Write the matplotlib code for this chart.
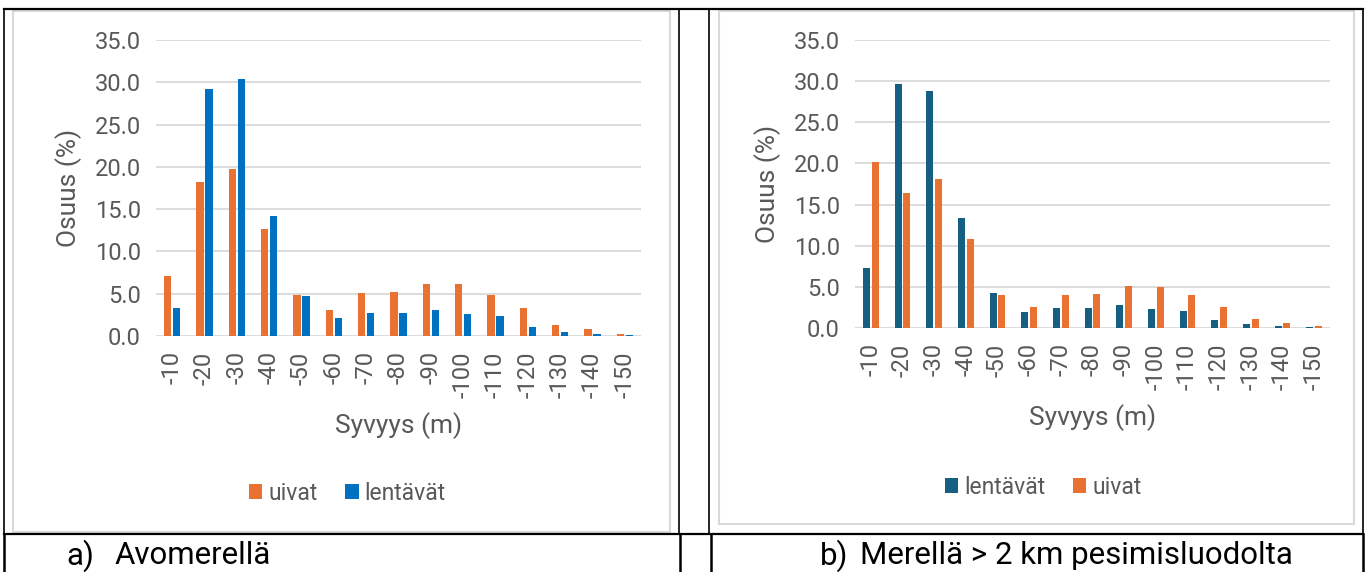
import numpy as np
import matplotlib.pyplot as plt
from matplotlib.lines import Line2D
from matplotlib.patches import Rectangle

plt.rcParams['font.family'] = ['Roboto', 'DejaVu Sans']

depths = ['-10', '-20', '-30', '-40', '-50', '-60', '-70', '-80', '-90', '-100',
          '-110', '-120', '-130', '-140', '-150']

# a) Avomerellä
uivat_a = [7.1, 18.2, 19.8, 12.6, 4.8, 3.1, 5.05, 5.2, 6.2, 6.2, 4.85, 3.3, 1.3, 0.8, 0.25]
lentavat_a = [3.3, 29.2, 30.4, 14.2, 4.75, 2.1, 2.7, 2.7, 3.1, 2.55, 2.35, 1.1, 0.5, 0.25, 0.1]

# b) Merellä > 2 km pesimisluodolta
lentavat_b = [7.35, 29.6, 28.8, 13.4, 4.25, 1.95, 2.45, 2.45, 2.8, 2.35, 2.1, 1.0, 0.45, 0.2, 0.08]
uivat_b = [20.2, 16.4, 18.1, 10.8, 3.95, 2.5, 4.05, 4.15, 5.05, 5.0, 3.95, 2.6, 1.05, 0.6, 0.2]

ORANGE = '#E97132'
BLUE = '#0070C0'
DARKBLUE = '#156082'
TXT = '#595959'
GRID = '#D9D9D9'

W, H = 1371, 572
fig = plt.figure(figsize=(W / 100, H / 100), dpi=100)


def fx(px):
    return px / W


def fy(py):
    return 1 - py / H


def make_axes(x0, x1, y0, y1):
    ax = fig.add_axes([fx(x0), fy(y1), fx(x1) - fx(x0), fy(y0) - fy(y1)])
    ax.set_ylim(0, 35)
    ax.set_xlim(-0.5, len(depths) - 0.5)
    ax.set_yticks(np.arange(0, 36, 5))
    ax.set_yticklabels([f'{v:.1f}' for v in np.arange(0, 36, 5)])
    ax.set_xticks(np.arange(len(depths)))
    ax.set_xticklabels(depths, rotation=90)
    ax.tick_params(length=0, labelsize=17, colors=TXT, pad=11)
    for s in ax.spines.values():
        s.set_visible(False)
    ax.grid(axis='y', color=GRID, lw=1.3)
    ax.set_axisbelow(True)
    return ax


x = np.arange(len(depths))
bw = 0.22
off = 0.14
leg_kw = dict(ncol=2, frameon=False, fontsize=16.5, handlelength=0.6, handleheight=0.6,
              handletextpad=0.25, columnspacing=1.2, labelcolor=TXT,
              bbox_transform=fig.transFigure, loc='center')

# left chart
ax1 = make_axes(156, 641, 40, 336)
ax1.bar(x - off, uivat_a, bw, color=ORANGE, label='uivat')
ax1.bar(x + off, lentavat_a, bw, color=BLUE, label='lentävät')
ax1.set_ylabel('Osuus (%)', fontsize=19, color=TXT, labelpad=9)
ax1.set_xlabel('Syvyys (m)', fontsize=19, color=TXT, labelpad=10)
ax1.legend(bbox_to_anchor=(fx(347), fy(493)), **leg_kw)

# right chart
ax2 = make_axes(855, 1330, 40, 328)
ax2.bar(x - off, lentavat_b, bw, color=DARKBLUE, label='lentävät')
ax2.bar(x + off, uivat_b, bw, color=ORANGE, label='uivat')
ax2.set_ylabel('Osuus (%)', fontsize=19, color=TXT, labelpad=9)
ax2.set_xlabel('Syvyys (m)', fontsize=19, color=TXT, labelpad=10)
ax2.legend(bbox_to_anchor=(fx(1043), fy(487)), **leg_kw)

# gray chart frames
for (a, b, c, d) in [(13, 11, 670, 532), (719, 11, 1354, 524)]:
    fig.add_artist(Rectangle((fx(a), fy(d)), fx(c) - fx(a), fy(b) - fy(d),
                             transform=fig.transFigure, fill=False,
                             edgecolor=GRID, lw=1.5))


# table lines
def hline(y, xa, xb, lw=1.6):
    fig.add_artist(Line2D([fx(xa), fx(xb)], [fy(y), fy(y)], color='black', lw=lw))


def vline(xp, ya, yb, lw=1.2):
    fig.add_artist(Line2D([fx(xp), fx(xp)], [fy(ya), fy(yb)], color='black', lw=lw))


hline(9, 4, 1363)
hline(534, 4, 1363)
for xp in [4, 679, 709, 1363]:
    vline(xp, 9, 534)
for xp in [4, 680, 711, 1363]:
    vline(xp, 534, 572, lw=1.8)

fig.text(fx(66), fy(556), 'a)', fontsize=22.5, color='black', va='center')
fig.text(fx(115), fy(556), 'Avomerellä', fontsize=22.5, color='black', va='center')
fig.text(fx(820), fy(556), 'b)', fontsize=22.5, color='black', va='center')
fig.text(fx(860), fy(556), 'Merellä > 2 km pesimisluodolta', fontsize=22.5,
         color='black', va='center')

fig.savefig('out.png', dpi=100)
